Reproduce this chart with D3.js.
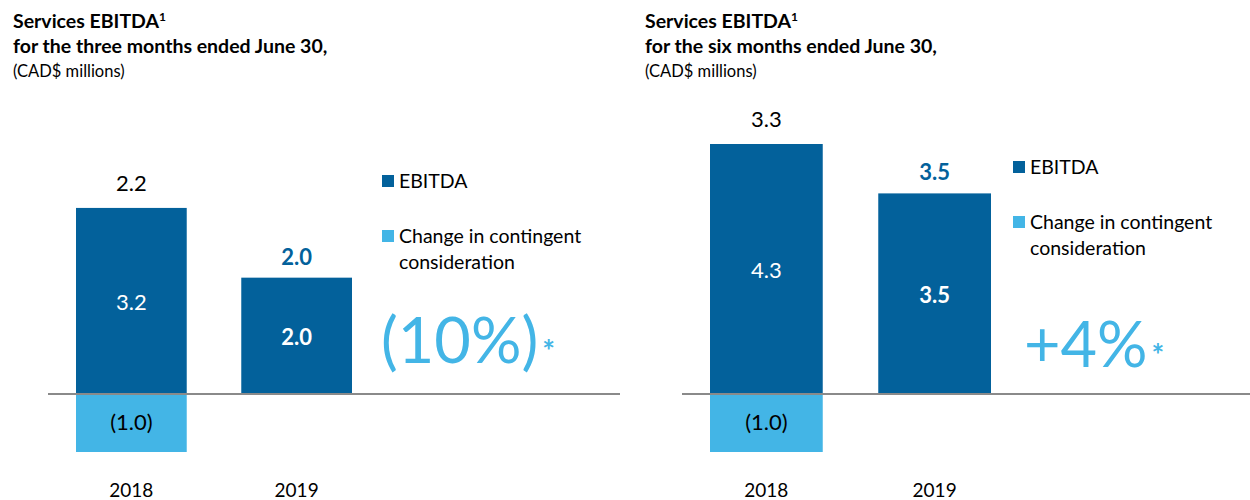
<!DOCTYPE html>
<html>
<head>
<meta charset="utf-8">
<script src="https://cdn.jsdelivr.net/npm/d3@7"></script>
<style>
  body { margin: 0; background: #fff; }
  svg { display: block; font-family: Lato, 'Noto Sans', sans-serif; }
</style>
</head>
<body>
<script>
const years = ['2018', '2019']

// three months
const ebitdaQ = [3.2, 2.0]
const contingentQ = [-1.0, 0]
const totalLabelsQ = ['2.2', '2.0']
const innerLabelsQ = ['3.2', '2.0']
const negLabelsQ = ['(1.0)', null]
const changeQ = '(10%)'

// six months
const ebitdaH = [4.3, 3.45]
const contingentH = [-1.0, 0]
const totalLabelsH = ['3.3', '3.5']
const innerLabelsH = ['4.3', '3.5']
const negLabelsH = ['(1.0)', null]
const changeH = '+4%'

const titles = [
  ['Services EBITDA', 'for the three months ended June 30,', '(CAD$ millions)'],
  ['Services EBITDA', 'for the six months ended June 30,', '(CAD$ millions)']
]
const legendLabels = ['EBITDA', 'Change in contingent', 'consideration']

const dark = '#03619b'
const light = '#43b5e6'

const w = 1250
const h = 500

const svg = d3.select('body').append('svg').attr('width', w).attr('height', h)

const y = d3.scaleLinear().domain([-1, 4.3]).range([452, 144])

const drawPanel = (opt) => {
  const g = svg.append('g')
  const x = d3.scaleBand().domain(years).range(opt.barRange).paddingInner(0.33).paddingOuter(0)

  // title
  const t = g.append('text').attr('x', opt.left).attr('y', 28)
    .attr('font-size', 19.5).attr('font-weight', 'bold').attr('fill', '#000')
  t.append('tspan').text(opt.title[0])
  t.append('tspan').text('1').attr('font-size', 12).attr('dy', -7)
  g.append('text').attr('x', opt.left).attr('y', 53)
    .attr('font-size', 19.5).attr('font-weight', 'bold').text(opt.title[1])
  g.append('text').attr('x', opt.left).attr('y', 77)
    .attr('font-size', 16.5).text(opt.title[2])

  // bars
  g.selectAll('rect.e').data(years).enter().append('rect')
    .attr('x', (d) => x(d)).attr('width', x.bandwidth())
    .attr('y', (d, i) => y(opt.ebitda[i]))
    .attr('height', (d, i) => y(0) - y(opt.ebitda[i]))
    .attr('fill', dark)
  g.selectAll('rect.c').data(years.filter((d, i) => opt.contingent[i] < 0)).enter().append('rect')
    .attr('x', (d) => x(d)).attr('width', x.bandwidth())
    .attr('y', y(0))
    .attr('height', (d) => y(opt.contingent[years.indexOf(d)]) - y(0))
    .attr('fill', light)

  // baseline
  g.append('line').attr('x1', opt.lineRange[0]).attr('x2', opt.lineRange[1])
    .attr('y1', y(0)).attr('y2', y(0)).attr('stroke', '#8a8a8a').attr('stroke-width', 2)

  // labels
  years.forEach((yr, i) => {
    const cx = x(yr) + x.bandwidth() / 2
    const bold = i === 1
    g.append('text').attr('x', cx).attr('y', y(opt.ebitda[i]) - (bold ? 13 : 17))
      .attr('text-anchor', 'middle').attr('font-size', 22)
      .attr('font-weight', bold ? 'bold' : 'normal')
      .attr('fill', bold ? dark : '#000').text(opt.totals[i])
    g.append('text').attr('x', cx).attr('y', y(opt.ebitda[i] / 2) + 9)
      .attr('text-anchor', 'middle').attr('font-size', 22)
      .attr('font-weight', bold ? 'bold' : 'normal')
      .attr('fill', '#fff').text(opt.inner[i])
    if (opt.neg[i]) {
      g.append('text').attr('x', cx).attr('y', y(opt.contingent[i] / 2) + 7)
        .attr('text-anchor', 'middle').attr('font-size', 22)
        .attr('fill', '#000').text(opt.neg[i])
    }
    g.append('text').attr('x', cx).attr('y', 497)
      .attr('text-anchor', 'middle').attr('font-size', 19).text(yr)
  })

  // legend
  const lg = g.append('g').attr('transform', `translate(${opt.legend[0]},${opt.legend[1]})`)
  lg.append('rect').attr('x', 0).attr('y', 0).attr('width', 12).attr('height', 12).attr('fill', dark)
  lg.append('text').attr('x', 17).attr('y', 13).attr('font-size', 19.5).text(legendLabels[0])
  lg.append('rect').attr('x', 0).attr('y', 55).attr('width', 12).attr('height', 12).attr('fill', light)
  lg.append('text').attr('x', 17).attr('y', 68).attr('font-size', 19.5).text(legendLabels[1])
  lg.append('text').attr('x', 17).attr('y', 94).attr('font-size', 19.5).text(legendLabels[2])

  // change
  const ct = g.append('text').attr('x', opt.change[0]).attr('y', opt.change[1])
    .attr('font-size', 63).attr('fill', light)
  ct.append('tspan').text(opt.changeText)
  ct.append('tspan').text('*').attr('font-size', 30).attr('font-weight', 'bold').attr('dx', 4).attr('dy', -1)
}

drawPanel({
  left: 13, title: titles[0], barRange: [76, 352], lineRange: [48, 620],
  ebitda: ebitdaQ, contingent: contingentQ, totals: totalLabelsQ, inner: innerLabelsQ, neg: negLabelsQ,
  legend: [382, 175], change: [381, 363], changeText: changeQ
})

drawPanel({
  left: 645, title: titles[1], barRange: [710, 991], lineRange: [682, 1250],
  ebitda: ebitdaH, contingent: contingentH, totals: totalLabelsH, inner: innerLabelsH, neg: negLabelsH,
  legend: [1013, 161], change: [1024, 367], changeText: changeH
})
</script>
</body>
</html>
